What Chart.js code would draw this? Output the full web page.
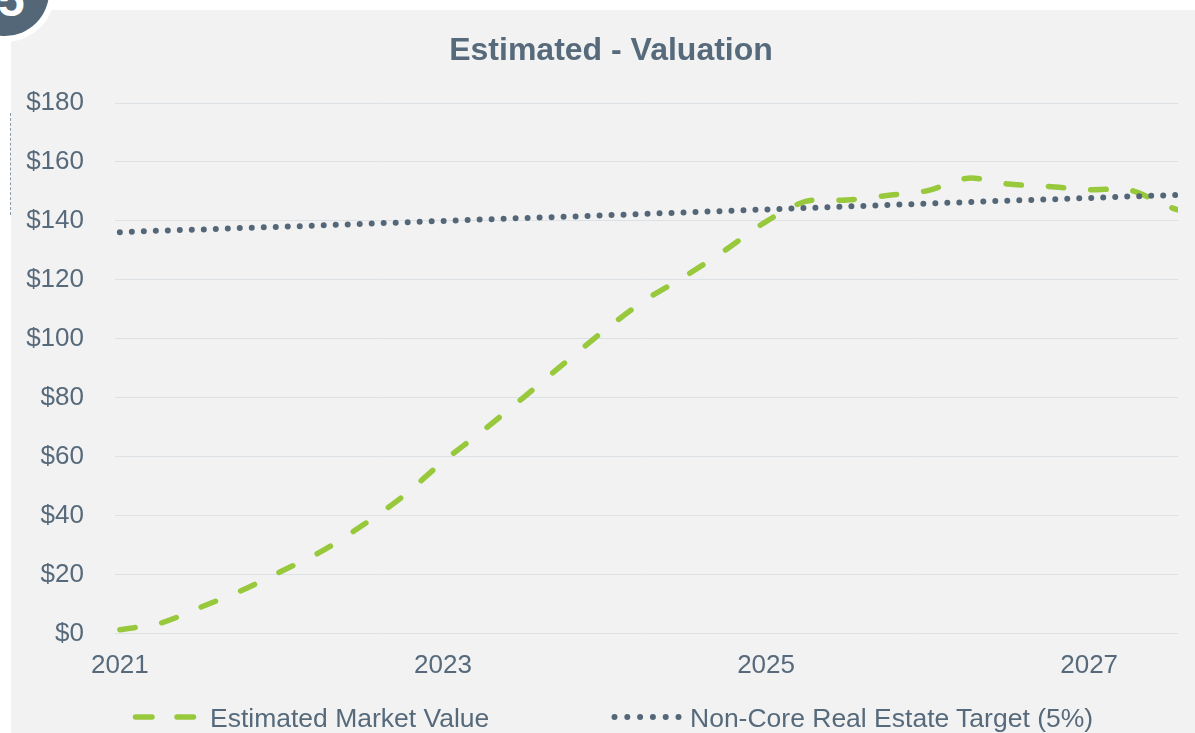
<!DOCTYPE html>
<html><head><meta charset="utf-8">
<script src="https://cdn.jsdelivr.net/npm/chart.js@4"></script>
<style>
html,body{margin:0;padding:0;background:#fff;width:1195px;height:733px;overflow:hidden;position:relative;font-family:'Liberation Sans',Arial,sans-serif;}
#panel{position:absolute;left:11px;top:10px;width:1184px;height:723px;background:#f2f2f2;}
#badge{position:absolute;left:-39px;top:-52px;width:88px;height:88px;border-radius:50%;background:#546778;box-shadow:0 0 0 6px #fff;}
#badgeNum{position:absolute;left:-2px;top:-24px;font-weight:bold;font-size:48px;line-height:48px;color:#fff;}
#sideRule{position:absolute;left:10px;top:113px;height:102px;border-left:1px dashed #8b99a6;}
#wrap{position:absolute;left:0;top:0;width:1195px;height:733px;}
#title{position:absolute;left:0;top:33px;width:1222px;text-align:center;font-weight:bold;font-size:32px;line-height:32px;color:#566a7b;}
.lg{position:absolute;font-size:26.5px;line-height:26.5px;color:#566a7b;white-space:nowrap;}
svg.lgs{position:absolute;overflow:visible;}
</style></head>
<body>
<div id="panel"></div>
<div id="badge"></div>
<div id="badgeNum">5</div>
<div id="sideRule"></div>
<div id="wrap"><canvas id="c"></canvas></div>
<div id="title">Estimated - Valuation</div>
<svg class="lgs" style="left:0;top:0" width="1195" height="733">
  <line x1="135.5" y1="717" x2="195" y2="717" stroke="#98c93c" stroke-width="5.5" stroke-linecap="round" stroke-dasharray="16.5 25"/>
  <line x1="614.5" y1="717" x2="680" y2="717" stroke="#546778" stroke-width="6" stroke-linecap="round" stroke-dasharray="0 12.8"/>
</svg>
<div class="lg" style="left:210px;top:705px;">Estimated Market Value</div>
<div class="lg" style="left:690px;top:705px;">Non-Core Real Estate Target (5%)</div>
<script>
const periods = [2021.00, 2021.25, 2021.50, 2021.75, 2022.00, 2022.25, 2022.50, 2022.75,
                 2023.00, 2023.25, 2023.50, 2023.75, 2024.00, 2024.25, 2024.50, 2024.75,
                 2025.00, 2025.25, 2025.50, 2025.75, 2026.00, 2026.25, 2026.50, 2026.75,
                 2027.00, 2027.25, 2027.50, 2027.75];
const marketValue = [1.4, 3.6, 9.0, 14.6, 21.2, 28.0, 36.7, 46.5,
                     58.4, 69.0, 80.2, 91.7, 102.9, 113.1, 121.3, 130.2,
                     139.8, 146.7, 147.1, 148.6, 150.3, 154.5, 152.5, 151.7,
                     150.6, 150.5, 144.7, 140.5];
const targetValue = [136.2, 136.7, 137.1, 137.6, 138.0, 138.5, 139.0, 139.5,
                     140.0, 140.5, 141.0, 141.4, 141.9, 142.4, 142.9, 143.4,
                     143.9, 144.4, 144.9, 145.4, 145.9, 146.4, 146.9, 147.3,
                     147.8, 148.3, 148.7, 149.2];
const xTickValues = [2021, 2023, 2025, 2027];
const seriesNames = ['Estimated Market Value', 'Non-Core Real Estate Target (5%)'];

const textColor = '#566a7b';
const font = {family: "'Liberation Sans', Arial, sans-serif", size: 26};

new Chart(document.getElementById('c'), {
  type: 'line',
  data: {
    datasets: [
      {
        label: seriesNames[0],
        data: periods.map((p, i) => ({x: p, y: marketValue[i]})),
        borderColor: '#98c93c',
        borderWidth: 5.5,
        borderDash: [15.5, 27],
        borderCapStyle: 'round',
        pointRadius: 0,
        tension: 0.3,
        fill: false,
        order: 1
      },
      {
        label: seriesNames[1],
        data: periods.map((p, i) => ({x: p, y: targetValue[i]})),
        borderColor: '#546778',
        borderWidth: 6,
        borderDash: [0, 12],
        borderCapStyle: 'round',
        pointRadius: 0,
        tension: 0,
        fill: false,
        order: 0
      }
    ]
  },
  options: {
    responsive: true,
    maintainAspectRatio: false,
    animation: false,
    layout: {padding: {left: 0, right: 17, top: 103, bottom: 36}},
    plugins: {legend: {display: false}, title: {display: false}, tooltip: {enabled: false}},
    scales: {
      x: {
        type: 'linear',
        min: 2020.97,
        max: 2027.55,
        grid: {display: false, drawTicks: false},
        border: {display: false},
        afterBuildTicks: (s) => { s.ticks = xTickValues.map(v => ({value: v})); },
        ticks: {
          color: textColor, font: font, padding: 16, maxRotation: 0, autoSkip: false,
          callback: (v) => String(v)
        }
      },
      y: {
        min: 0,
        max: 180,
        afterFit: (s) => { s.width = 115; },
        grid: {color: '#dce1e6', lineWidth: 1, drawTicks: false},
        border: {display: false},
        ticks: {
          stepSize: 20, color: textColor, font: font, padding: 31,
          callback: (v) => '$' + v
        }
      }
    }
  }
});
</script>
</body></html>
